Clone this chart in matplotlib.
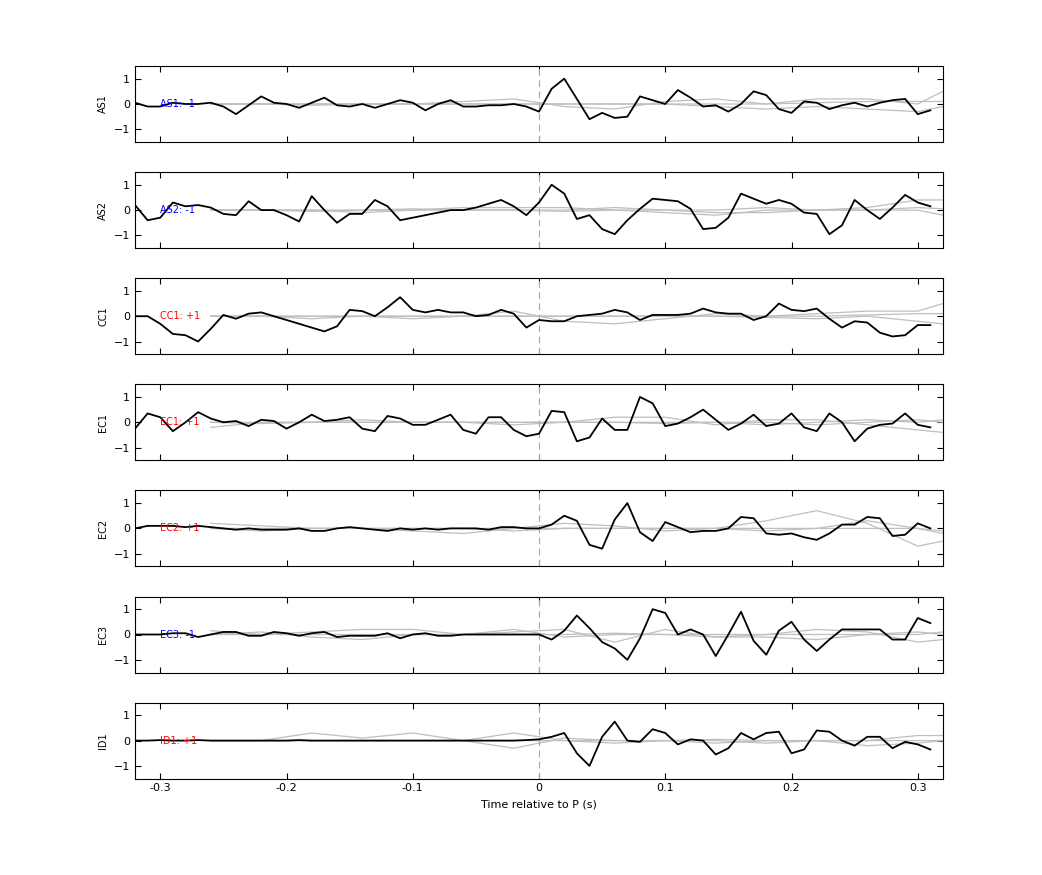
import numpy as np
import matplotlib.pyplot as plt

t = np.round(np.arange(-0.32, 0.315, 0.01), 2)  # 64 samples

stations = ["AS1", "AS2", "CC1", "EC1", "EC2", "EC3", "ID1"]
polarity = ["-1", "-1", "+1", "+1", "+1", "-1", "+1"]

AS1 = [0.05, -0.1, -0.1, 0.05, 0.0, 0.0, 0.05, -0.1, -0.4, -0.05, 0.3, 0.05, 0.0, -0.15, 0.05, 0.25,
       -0.05, -0.1, 0.0, -0.15, 0.0, 0.15, 0.05, -0.25, 0.0, 0.15, -0.1, -0.1, -0.05, -0.05, 0.0, -0.1,
       -0.3, 0.6, 1.0, 0.2, -0.6, -0.35, -0.55, -0.5, 0.3, 0.15, 0.0, 0.55, 0.25, -0.1, -0.05, -0.3,
       0.0, 0.5, 0.35, -0.2, -0.35, 0.1, 0.05, -0.2, -0.05, 0.05, -0.1, 0.05, 0.15, 0.2, -0.4, -0.25]
AS2 = [0.2, -0.4, -0.3, 0.3, 0.15, 0.2, 0.1, -0.15, -0.2, 0.35, 0.0, 0.0, -0.2, -0.45, 0.55, 0.0,
       -0.5, -0.15, -0.15, 0.4, 0.15, -0.4, -0.3, -0.2, -0.1, 0.0, 0.0, 0.1, 0.25, 0.4, 0.15, -0.2,
       0.3, 1.0, 0.65, -0.35, -0.2, -0.75, -0.95, -0.4, 0.05, 0.45, 0.4, 0.35, 0.05, -0.75, -0.7, -0.3,
       0.65, 0.45, 0.25, 0.4, 0.25, -0.1, -0.15, -0.95, -0.6, 0.4, 0.0, -0.35, 0.1, 0.6, 0.3, 0.15]
CC1 = [0.0, 0.0, -0.3, -0.7, -0.75, -1.0, -0.5, 0.05, -0.1, 0.1, 0.15, 0.0, -0.15, -0.3, -0.45, -0.6,
       -0.4, 0.25, 0.2, 0.0, 0.35, 0.75, 0.25, 0.15, 0.25, 0.15, 0.15, 0.0, 0.05, 0.25, 0.1, -0.45,
       -0.15, -0.2, -0.2, 0.0, 0.05, 0.1, 0.25, 0.15, -0.15, 0.05, 0.05, 0.05, 0.1, 0.3, 0.15, 0.1,
       0.1, -0.15, 0.0, 0.5, 0.25, 0.2, 0.3, -0.1, -0.45, -0.2, -0.25, -0.65, -0.8, -0.75, -0.35, -0.35]
EC1 = [-0.25, 0.35, 0.2, -0.35, 0.0, 0.4, 0.15, 0.0, 0.05, -0.15, 0.1, 0.05, -0.25, 0.0, 0.3, 0.05,
       0.1, 0.2, -0.25, -0.35, 0.25, 0.15, -0.1, -0.1, 0.1, 0.3, -0.3, -0.45, 0.2, 0.2, -0.3, -0.55,
       -0.45, 0.45, 0.4, -0.75, -0.6, 0.15, -0.3, -0.3, 1.0, 0.75, -0.15, -0.05, 0.2, 0.5, 0.1, -0.3,
       -0.05, 0.3, -0.15, -0.05, 0.35, -0.2, -0.35, 0.35, 0.0, -0.75, -0.25, -0.1, -0.05, 0.35, -0.1, -0.2]
EC2 = [0.0, 0.1, 0.1, 0.1, 0.05, 0.1, 0.05, 0.0, -0.05, 0.0, -0.05, -0.05, -0.05, 0.0, -0.1, -0.1,
       0.0, 0.05, 0.0, -0.05, -0.1, 0.0, -0.05, 0.0, -0.05, 0.0, 0.0, 0.0, -0.05, 0.05, 0.05, 0.0,
       0.0, 0.15, 0.5, 0.3, -0.65, -0.8, 0.35, 1.0, -0.15, -0.5, 0.25, 0.05, -0.15, -0.1, -0.1, 0.0,
       0.45, 0.4, -0.2, -0.25, -0.2, -0.35, -0.45, -0.2, 0.15, 0.15, 0.45, 0.4, -0.3, -0.25, 0.2, 0.0]
EC3 = [0.0, 0.0, 0.0, 0.05, 0.05, -0.1, 0.0, 0.1, 0.1, -0.05, -0.05, 0.1, 0.05, -0.05, 0.05, 0.1,
       -0.1, -0.05, -0.05, -0.05, 0.05, -0.15, 0.0, 0.05, -0.05, -0.05, 0.0, 0.0, 0.0, 0.0, 0.0, 0.0,
       0.0, -0.2, 0.15, 0.75, 0.25, -0.3, -0.55, -1.0, -0.15, 1.0, 0.85, 0.0, 0.2, 0.0, -0.85, 0.0,
       0.9, -0.25, -0.8, 0.15, 0.5, -0.2, -0.65, -0.2, 0.2, 0.2, 0.2, 0.2, -0.2, -0.2, 0.65, 0.45]
ID1 = [0.0, 0.0, 0.02, 0.0, 0.0, 0.02, 0.0, 0.0, 0.0, 0.0, 0.0, 0.0, 0.0, 0.02, 0.0, 0.0,
       0.0, 0.0, 0.0, 0.0, 0.0, 0.0, 0.0, 0.0, 0.0, 0.0, 0.0, 0.0, 0.0, 0.0, 0.0, 0.02,
       0.05, 0.15, 0.3, -0.5, -1.0, 0.15, 0.75, 0.0, -0.05, 0.45, 0.3, -0.15, 0.05, 0.0, -0.55, -0.3,
       0.3, 0.05, 0.3, 0.35, -0.5, -0.35, 0.4, 0.35, 0.0, -0.2, 0.15, 0.15, -0.3, -0.05, -0.15, -0.35]
traces = [AS1, AS2, CC1, EC1, EC2, EC3, ID1]

# smooth grey comparison traces, read coarsely
gt = [-0.26, -0.22, -0.18, -0.14, -0.10, -0.06, -0.02, 0.02, 0.06, 0.10, 0.14, 0.18, 0.22, 0.26, 0.30, 0.32]
grey = {
    "AS1": [[0.0, 0.0, 0.0, 0.0, 0.0, 0.1, 0.2, -0.1, -0.2, 0.1, 0.2, 0.0, 0.2, 0.2, 0.0, 0.5],
            [0.0, 0.0, -0.05, 0.0, 0.0, 0.0, 0.0, 0.0, 0.0, 0.0, -0.1, -0.2, -0.1, -0.2, -0.3, -0.1],
            [0.0, 0.0, 0.0, 0.0, 0.0, 0.0, 0.0, 0.0, 0.0, 0.0, 0.0, 0.0, 0.05, 0.1, 0.1, 0.1]],
    "AS2": [[0.0, 0.0, 0.0, -0.1, 0.0, 0.1, 0.1, 0.1, 0.0, -0.1, -0.2, 0.0, 0.0, 0.1, 0.4, 0.4],
            [0.0, 0.0, 0.0, 0.0, 0.05, 0.0, 0.0, -0.05, 0.0, 0.0, -0.1, -0.1, 0.0, 0.0, 0.0, -0.2],
            [0.0, 0.0, -0.05, 0.0, 0.0, 0.0, 0.0, 0.0, 0.1, 0.0, 0.0, 0.1, 0.0, 0.0, 0.1, 0.05]],
    "CC1": [[0.0, 0.0, 0.0, 0.0, 0.0, 0.0, 0.2, -0.2, -0.3, -0.1, 0.1, 0.0, 0.1, 0.2, 0.2, 0.5],
            [0.0, 0.0, -0.1, 0.0, -0.1, 0.0, 0.0, 0.0, 0.0, 0.0, 0.0, -0.05, -0.1, 0.0, -0.2, -0.3],
            [0.0, 0.0, 0.0, 0.0, 0.0, 0.0, 0.0, 0.0, 0.0, 0.0, 0.0, 0.0, 0.0, 0.05, 0.1, 0.1]],
    "EC1": [[-0.2, 0.0, 0.0, 0.0, 0.0, 0.0, -0.1, 0.0, 0.2, 0.2, -0.1, 0.1, 0.1, -0.1, -0.3, -0.4],
            [0.0, 0.0, 0.0, 0.1, 0.0, 0.0, 0.0, 0.0, 0.0, 0.0, 0.0, -0.1, 0.0, 0.1, 0.0, 0.1],
            [0.0, -0.05, 0.0, 0.0, 0.0, 0.0, 0.0, 0.0, 0.0, -0.05, 0.0, 0.0, -0.1, 0.0, 0.1, 0.0]],
    "EC2": [[0.2, 0.1, 0.0, 0.0, -0.1, -0.2, 0.0, 0.2, 0.1, -0.1, 0.0, 0.3, 0.7, 0.2, -0.7, -0.5],
            [0.0, -0.1, 0.0, 0.0, 0.0, 0.0, -0.1, 0.0, 0.0, 0.0, 0.0, -0.1, 0.0, 0.3, 0.0, -0.2],
            [0.0, 0.0, 0.0, 0.0, 0.0, 0.0, 0.0, 0.0, 0.0, 0.0, 0.0, 0.0, 0.0, 0.0, 0.0, -0.1]],
    "EC3": [[0.15, 0.0, 0.1, 0.2, 0.2, 0.0, 0.1, 0.2, -0.3, 0.2, -0.1, 0.0, 0.2, 0.1, -0.3, -0.2],
            [0.0, 0.1, -0.1, -0.2, 0.0, 0.0, 0.2, -0.1, 0.0, 0.0, -0.1, -0.1, -0.2, 0.0, 0.1, 0.0],
            [0.0, 0.0, 0.0, 0.0, 0.0, 0.0, 0.0, 0.0, 0.05, 0.0, 0.0, 0.0, 0.0, 0.0, 0.0, 0.1]],
    "ID1": [[0.0, 0.0, 0.3, 0.1, 0.3, 0.0, 0.3, 0.0, -0.1, 0.0, -0.1, 0.0, 0.0, 0.0, 0.2, 0.2],
            [0.0, 0.0, 0.0, 0.0, 0.0, 0.0, -0.3, 0.1, 0.0, 0.0, 0.0, -0.1, 0.0, -0.2, -0.1, 0.0],
            [0.0, 0.0, 0.0, 0.0, 0.0, 0.0, 0.0, 0.0, 0.0, 0.0, 0.05, 0.0, 0.0, 0.0, 0.0, 0.0]],
}

fig = plt.figure(figsize=(10.42, 8.75), dpi=100)
W, H = 1042.0, 875.0
for k, name in enumerate(stations):
    top = 66 + 106.1 * k
    ax = fig.add_axes([135 / W, 1 - (top + 76) / H, 808 / W, 76 / H])
    for g in grey[name]:
        ax.plot(gt, g, color="0.75", lw=0.9)
    ax.axvline(0, color=(0.9, 0.55, 0.55), ls=(0, (6, 4)), lw=0.8)
    ax.plot(t, traces[k], color="k", lw=1.3)
    col = "blue" if polarity[k] == "-1" else "red"
    ax.text(-0.30, 0, name + ": " + polarity[k], color=col, fontsize=7, va="center")
    ax.set_xlim(-0.32, 0.32)
    ax.set_ylim(-1.5, 1.5)
    ax.set_yticks([-1, 0, 1])
    ax.set_xticks([-0.3, -0.2, -0.1, 0, 0.1, 0.2, 0.3])
    ax.set_ylabel(name, fontsize=7)
    ax.tick_params(direction="in", top=True, right=True, labelsize=8, length=4)
    if k < len(stations) - 1:
        ax.set_xticklabels([])
    else:
        ax.set_xticklabels(["-0.3", "-0.2", "-0.1", "0", "0.1", "0.2", "0.3"])
        ax.set_xlabel("Time relative to P (s)", fontsize=8)

fig.savefig("out.png", dpi=100)
